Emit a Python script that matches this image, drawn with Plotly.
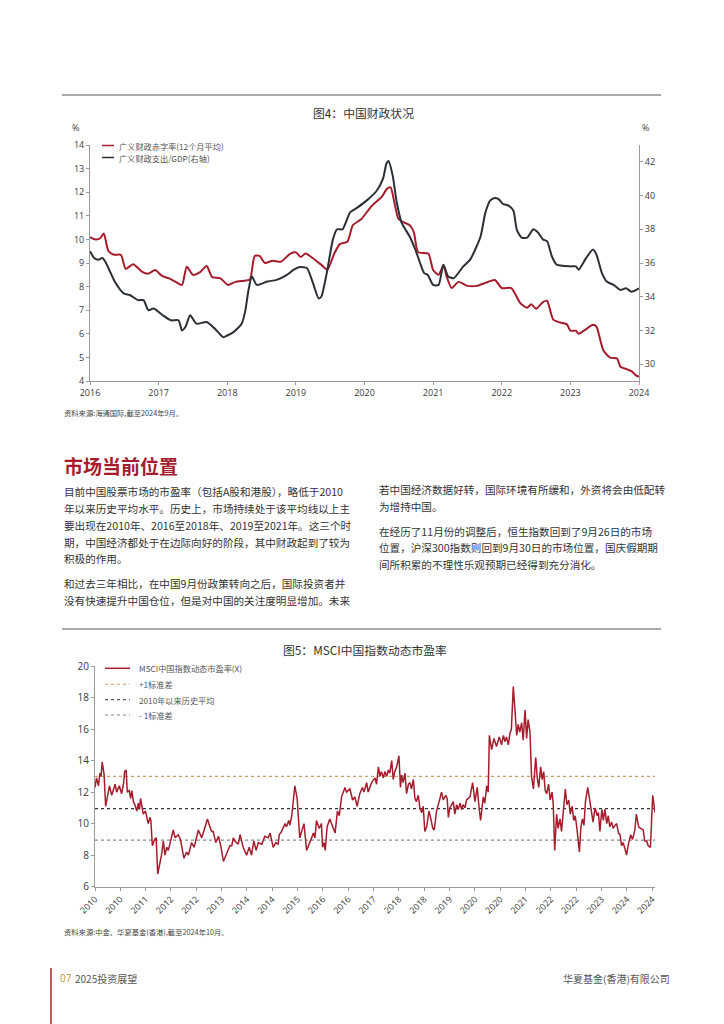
import plotly.graph_objects as go

# ---------------- Figure 4 data ----------------
deficit_years = [2016.00, 2016.08, 2016.15, 2016.20, 2016.27, 2016.35, 2016.45, 2016.52, 2016.63, 2016.75,
                 2016.85, 2016.95, 2017.05, 2017.15, 2017.25, 2017.34, 2017.41, 2017.50, 2017.60, 2017.70,
                 2017.78, 2017.90, 2018.01, 2018.12, 2018.25, 2018.33, 2018.40, 2018.47, 2018.55, 2018.66,
                 2018.78, 2018.92, 2019.00, 2019.07, 2019.14, 2019.25, 2019.38, 2019.46, 2019.56, 2019.64,
                 2019.75, 2019.83, 2019.95, 2020.10, 2020.25, 2020.33, 2020.38, 2020.44, 2020.49, 2020.55,
                 2020.66, 2020.72, 2020.78, 2020.93, 2021.00, 2021.08, 2021.15, 2021.20, 2021.27, 2021.37,
                 2021.50, 2021.64, 2021.77, 2021.90, 2022.00, 2022.14, 2022.27, 2022.37, 2022.43, 2022.50,
                 2022.60, 2022.66, 2022.75, 2022.85, 2022.95, 2023.00, 2023.08, 2023.12, 2023.23, 2023.33,
                 2023.38, 2023.48, 2023.58, 2023.68, 2023.73, 2023.83, 2023.90, 2023.95, 2024.00]
deficit_rate = [10.1, 10.0, 10.05, 10.25, 9.5, 9.35, 9.35, 8.75, 8.95, 8.65,
                8.55, 8.7, 8.45, 8.35, 8.2, 8.07, 8.84, 8.5, 8.6, 8.87,
                8.4, 8.35, 8.07, 8.2, 8.25, 8.3, 9.3, 9.3, 9.0, 9.1,
                9.05, 9.4, 9.45, 9.25, 9.4, 9.2, 8.9, 8.72, 9.4, 9.8,
                9.9, 10.6, 10.85, 11.4, 11.8, 12.15, 12.2, 11.5, 10.9, 10.75,
                10.6, 10.3, 9.46, 9.4, 8.7, 8.5, 8.9, 8.4, 7.94, 8.2,
                8.03, 8.03, 8.17, 8.28, 7.94, 7.94, 7.3, 7.1, 7.25, 7.06,
                7.34, 7.4, 6.6, 6.48, 6.4, 6.13, 6.13, 6.0, 6.2, 6.38,
                6.3, 5.3, 4.99, 4.95, 4.6, 4.49, 4.4, 4.25, 4.18]

spend_years = [2016.00, 2016.06, 2016.12, 2016.18, 2016.22, 2016.28, 2016.36, 2016.49, 2016.58, 2016.70,
               2016.78, 2016.85, 2016.93, 2017.06, 2017.18, 2017.29, 2017.34, 2017.39, 2017.46, 2017.55,
               2017.70, 2017.82, 2017.94, 2018.00, 2018.09, 2018.21, 2018.26, 2018.31, 2018.36, 2018.43,
               2018.58, 2018.72, 2018.87, 2018.97, 2019.06, 2019.16, 2019.25, 2019.33, 2019.37, 2019.45,
               2019.54, 2019.60, 2019.68, 2019.79, 2019.90, 2020.03, 2020.18, 2020.27, 2020.32, 2020.35,
               2020.41, 2020.47, 2020.54, 2020.66, 2020.74, 2020.81, 2020.87, 2020.92, 2021.00, 2021.08,
               2021.15, 2021.22, 2021.30, 2021.44, 2021.54, 2021.69, 2021.76, 2021.83, 2021.90, 2021.95,
               2022.02, 2022.10, 2022.17, 2022.22, 2022.29, 2022.37, 2022.46, 2022.53, 2022.60, 2022.66,
               2022.73, 2022.80, 2023.00, 2023.08, 2023.12, 2023.23, 2023.33, 2023.38, 2023.46, 2023.53,
               2023.63, 2023.73, 2023.81, 2023.89, 2024.00]
spend_gdp = [36.7, 36.3, 36.2, 36.3, 36.1, 35.6, 34.9, 34.2, 34.1, 33.8,
             33.8, 33.2, 33.3, 32.9, 32.6, 32.6, 32.0, 32.2, 32.9, 32.4,
             32.5, 32.1, 31.6, 31.7, 31.9, 32.4, 33.1, 34.4, 35.2, 34.7,
             34.9, 35.0, 35.3, 35.6, 35.76, 35.7, 34.8, 33.9, 34.0, 35.4,
             37.4, 38.0, 38.0, 39.0, 39.3, 39.7, 40.3, 41.0, 41.9, 42.05,
             41.2, 39.6, 38.4, 37.56, 36.8, 36.0, 35.4, 35.3, 34.7, 34.7,
             35.9, 35.2, 35.1, 35.8, 36.2, 37.56, 38.96, 39.7, 39.86, 39.8,
             39.5, 39.4, 39.1, 37.96, 37.5, 37.5, 38.0, 37.8, 37.4, 37.3,
             36.4, 35.9, 35.8, 35.8, 35.6, 36.3, 36.8, 36.5, 35.4, 34.9,
             34.7, 34.4, 34.5, 34.3, 34.5]

fig4_xticks = [2016, 2017, 2018, 2019, 2020, 2021, 2022, 2023, 2024]
fig4_xtick_text = ["2016", "2017", "2018", "2019", "2020", "2021", "2022", "2023", "2024"]

# ---------------- Figure 5 data ----------------
pe_years = [2010.00, 2010.04, 2010.09, 2010.13, 2010.16, 2010.19, 2010.24, 2010.28, 2010.38, 2010.44,
            2010.53, 2010.57, 2010.64, 2010.70, 2010.75, 2010.78, 2010.82, 2010.85, 2010.90, 2010.94,
            2010.97, 2011.01, 2011.05, 2011.10, 2011.14, 2011.17, 2011.20, 2011.27, 2011.33, 2011.40,
            2011.45, 2011.47, 2011.51, 2011.57, 2011.61, 2011.65, 2011.75, 2011.80, 2011.84, 2011.89,
            2011.93, 2011.99, 2012.06, 2012.11, 2012.19, 2012.25, 2012.31, 2012.34, 2012.41, 2012.46,
            2012.50, 2012.54, 2012.61, 2012.66, 2012.72, 2012.81, 2012.89, 2012.96, 2013.01, 2013.07,
            2013.11, 2013.18, 2013.25, 2013.31, 2013.38, 2013.45, 2013.55, 2013.60, 2013.64, 2013.68,
            2013.77, 2013.82, 2013.90, 2013.99, 2014.06, 2014.12, 2014.18, 2014.24, 2014.30, 2014.39,
            2014.47, 2014.56, 2014.61, 2014.69, 2014.76, 2014.82, 2014.85, 2014.91, 2015.00, 2015.04,
            2015.10, 2015.13, 2015.18, 2015.26, 2015.32, 2015.39, 2015.46, 2015.50, 2015.57, 2015.66,
            2015.75, 2015.79, 2015.83, 2015.90, 2015.96, 2015.99, 2016.03, 2016.06, 2016.11, 2016.18,
            2016.32, 2016.38, 2016.43, 2016.49, 2016.58, 2016.62, 2016.71, 2016.78, 2016.84, 2016.90,
            2016.97, 2017.04, 2017.08, 2017.15, 2017.19, 2017.28, 2017.37, 2017.41, 2017.46, 2017.50,
            2017.54, 2017.59, 2017.63, 2017.68, 2017.72, 2017.76, 2017.81, 2017.85, 2017.89, 2017.94,
            2018.00, 2018.04, 2018.07, 2018.11, 2018.16, 2018.20, 2018.25, 2018.29, 2018.33, 2018.38,
            2018.42, 2018.46, 2018.51, 2018.55, 2018.60, 2018.64, 2018.68, 2018.73, 2018.79, 2018.84,
            2018.89, 2018.93, 2018.99, 2019.08, 2019.12, 2019.17, 2019.23, 2019.27, 2019.30, 2019.34,
            2019.43, 2019.47, 2019.52, 2019.56, 2019.61, 2019.65, 2019.69, 2019.74, 2019.78, 2019.87,
            2019.94, 2020.00, 2020.06, 2020.11, 2020.15, 2020.22, 2020.26, 2020.31, 2020.35, 2020.38,
            2020.44, 2020.50, 2020.57, 2020.64, 2020.70, 2020.75, 2020.79, 2020.83, 2020.88, 2020.92,
            2020.96, 2021.01, 2021.05, 2021.10, 2021.14, 2021.18, 2021.23, 2021.27, 2021.32, 2021.36,
            2021.40, 2021.45, 2021.49, 2021.54, 2021.60, 2021.64, 2021.68, 2021.73, 2021.77, 2021.81,
            2021.85, 2021.89, 2021.94, 2021.98, 2022.03, 2022.06, 2022.10, 2022.15, 2022.19, 2022.24,
            2022.28, 2022.32, 2022.38, 2022.42, 2022.47, 2022.51, 2022.56, 2022.60, 2022.64, 2022.68,
            2022.75, 2022.79, 2022.83, 2022.87, 2022.91, 2022.97, 2023.03, 2023.07, 2023.11, 2023.16,
            2023.22, 2023.25, 2023.29, 2023.34, 2023.38, 2023.42, 2023.47, 2023.51, 2023.55, 2023.60,
            2023.64, 2023.69, 2023.73, 2023.78, 2023.82, 2023.86, 2023.90, 2023.95, 2023.99, 2024.04,
            2024.10, 2024.15, 2024.21, 2024.25, 2024.31, 2024.36, 2024.43, 2024.47, 2024.52, 2024.56,
            2024.62, 2024.68, 2024.74]
pe_values = [12.3, 12.9, 12.4, 13.2, 13.0, 13.9, 13.1, 11.1, 12.4, 11.8,
             12.5, 12.0, 12.4, 11.9, 12.5, 13.3, 13.4, 12.0, 12.1, 11.6,
             12.1, 11.4, 11.2, 10.8, 11.3, 10.9, 11.6, 10.6, 10.8, 10.0,
             10.4, 10.2, 8.6, 9.0, 9.1, 6.8, 8.0, 8.9, 8.0, 8.5,
             8.3, 9.0, 9.6, 9.1, 9.3, 9.0, 8.0, 7.8, 8.2, 8.0,
             8.4, 8.8, 8.5, 9.0, 9.6, 9.1, 9.8, 10.3, 9.9, 9.5,
             9.5, 8.8, 9.2, 8.6, 7.6, 8.0, 8.6, 8.6, 9.1, 8.9,
             8.7, 9.3, 8.5, 8.0, 8.5, 8.0, 8.9, 8.3, 8.8, 8.7,
             9.2, 9.1, 9.4, 8.5, 8.8, 8.7, 9.3, 9.5, 10.0, 9.8,
             10.2, 9.9, 10.5, 12.4, 11.6, 9.1, 9.6, 10.0, 8.3, 8.8,
             9.4, 9.1, 10.2, 9.7, 10.0, 8.5, 8.8, 8.3, 9.8, 10.3,
             9.4, 10.8, 10.5, 11.7, 12.3, 12.0, 12.2, 11.5, 11.7, 11.1,
             11.9, 12.3, 12.0, 12.6, 12.0, 12.6, 12.9, 12.5, 13.6, 13.0,
             13.3, 12.9, 13.3, 13.0, 13.4, 13.2, 14.0, 12.8, 13.3, 13.6,
             14.3, 12.3, 13.1, 12.6, 13.2, 11.9, 12.5, 12.6, 12.2, 12.8,
             11.6, 11.4, 11.8, 11.0, 10.7, 11.1, 9.5, 9.8, 10.8, 10.3,
             9.7, 9.6, 10.8, 11.6, 12.0, 11.5, 11.8, 11.6, 10.4, 11.0,
             11.4, 10.6, 11.2, 10.9, 11.3, 10.9, 11.2, 11.0, 11.5, 11.7,
             12.6, 11.4, 12.3, 11.0, 10.2, 11.7, 11.3, 12.4, 12.0, 15.6,
             14.7, 15.4, 14.9, 15.5, 15.0, 15.6, 15.2, 15.5, 15.0, 15.7,
             16.0, 18.7, 17.4, 15.6, 16.3, 15.8, 16.4, 15.3, 17.2, 15.4,
             16.6, 15.8, 13.0, 12.2, 14.2, 12.9, 12.3, 13.6, 12.8, 13.3,
             12.1, 11.9, 12.5, 11.5, 12.0, 11.3, 8.3, 10.6, 9.7, 10.3,
             9.5, 10.5, 12.2, 11.2, 11.5, 10.6, 11.1, 10.2, 10.5, 9.8,
             8.2, 9.8, 10.3, 9.9, 11.4, 12.3, 11.4, 10.9, 10.1, 11.0,
             10.5, 10.7, 9.5, 10.9, 10.2, 10.9, 10.0, 10.5, 9.8, 10.1,
             9.7, 9.9, 10.0, 9.4, 9.3, 8.6, 8.8, 8.4, 8.0, 8.7,
             9.3, 9.0, 9.6, 10.6, 9.8, 9.7, 9.6, 8.9, 8.9, 8.6,
             8.5, 11.8, 10.7]
pe_plus1_std = 13.0
pe_mean = 10.95
pe_minus1_std = 8.95
fig5_xtick_text = ["2010", "2010", "2011", "2012", "2012", "2013", "2014", "2014", "2015", "2016",
                   "2016", "2017", "2018", "2018", "2019", "2020", "2020", "2021", "2022", "2022",
                   "2023", "2024", "2024"]

# ---------------- styling ----------------
W, H = 724, 1024
RED = "#a51c2c"
DARK = "#2b3036"
AXIS = "#9a9a9a"
TXT = "#3a3a3a"
FONT = "Open Sans, Noto Sans CJK SC, sans-serif"
CJK = "Noto Sans CJK SC, sans-serif"


def px(x):
    return x / W


def py(y):
    return 1 - y / H


fig = go.Figure()

fig.add_trace(go.Scatter(x=deficit_years, y=deficit_rate, mode="lines", xaxis="x", yaxis="y",
                         line=dict(color=RED, width=2, shape="spline", smoothing=0.6), showlegend=False))
fig.add_trace(go.Scatter(x=spend_years, y=spend_gdp, mode="lines", xaxis="x", yaxis="y2",
                         line=dict(color=DARK, width=2, shape="spline", smoothing=0.6), showlegend=False))

pe_x_range = [pe_years[0], pe_years[-1]]
fig.add_trace(go.Scatter(x=pe_x_range, y=[pe_plus1_std] * 2, mode="lines", xaxis="x2", yaxis="y3",
                         line=dict(color="#c9a066", width=1.2, dash="dot"), showlegend=False))
fig.add_trace(go.Scatter(x=pe_x_range, y=[pe_mean] * 2, mode="lines", xaxis="x2", yaxis="y3",
                         line=dict(color="#333333", width=1.2, dash="dot"), showlegend=False))
fig.add_trace(go.Scatter(x=pe_x_range, y=[pe_minus1_std] * 2, mode="lines", xaxis="x2", yaxis="y3",
                         line=dict(color="#8a8a8a", width=1.2, dash="dot"), showlegend=False))
fig.add_trace(go.Scatter(x=pe_years, y=pe_values, mode="lines", xaxis="x2", yaxis="y3",
                         line=dict(color=RED, width=1.5), showlegend=False))

axis_common = dict(showgrid=False, zeroline=False, showline=True, linecolor=AXIS, linewidth=1,
                   automargin=False,
                   ticks="outside", tickcolor=AXIS, ticklen=3, tickfont=dict(family=FONT, size=9, color=TXT))

fig5_tickvals = [2010 + k * 2 / 3 for k in range(len(fig5_xtick_text))]

fig.update_layout(
    width=W, height=H, margin=dict(l=0, r=0, t=0, b=0, pad=0), autosize=False,
    paper_bgcolor="white", plot_bgcolor="white",
    font=dict(family=FONT, color=TXT),
    xaxis=dict(domain=[px(90), px(639)], range=[2016, 2024], anchor="y",
               tickvals=fig4_xticks, ticktext=fig4_xtick_text, **axis_common),
    yaxis=dict(domain=[py(381), py(145)], range=[4, 14], anchor="x", dtick=1, **axis_common),
    yaxis2=dict(range=[29, 43], overlaying="y", side="right", anchor="x", dtick=2, **axis_common),
    xaxis2=dict(domain=[px(95), px(655)], range=[2010, pe_years[-1]], anchor="y3",
                tickvals=fig5_tickvals, ticktext=fig5_xtick_text, tickangle=-45, **axis_common),
    yaxis3=dict(domain=[py(886.7), py(666)], range=[6, 20], anchor="x2", dtick=2, **axis_common),
)
fig.layout.xaxis2.tickfont.size = 8.8
fig.layout.yaxis3.tickfont.size = 10

shapes = []
ann = []


def text(x, y, s, size=10.5, color=TXT, anchor="left", family=CJK, bold=False):
    if bold:
        s = "<b>" + s + "</b>"
    ann.append(dict(x=px(x), y=py(y), xref="paper", yref="paper", text=s, showarrow=False,
                    xanchor=anchor, yanchor="middle", font=dict(family=family, size=size, color=color)))


def hline(x0, x1, y, color, width=1, dash="solid"):
    shapes.append(dict(type="line", xref="paper", yref="paper", x0=px(x0), x1=px(x1), y0=py(y), y1=py(y),
                       line=dict(color=color, width=width, dash=dash)))


# page rules
hline(62, 661, 95, "#555555", 1)
hline(62, 661, 629, "#555555", 1)

# Figure 4 titles & legend
text(363, 112, "图4：中国财政状况", size=11.8, color="#333", anchor="center")
text(75, 127, "%", size=9, anchor="center", family=FONT)
text(645, 127, "%", size=9, anchor="center", family=FONT)
hline(102, 114, 145.5, RED, 1.5)
text(117, 145.5, "广义财政赤字率(12个月平均)", size=8.2, color="#555")
hline(102, 114, 157.5, DARK, 1.5)
text(117, 157.5, "广义财政支出/GDP(右轴)", size=8.2, color="#555")
text(62, 413, "资料来源:海通国际,截至2024年9月。", size=7.3, color="#444")

# Section heading and body text
text(62, 465, "市场当前位置", size=19, color="#a51c2c", bold=True)
BODY = 10.6
left_lines = [
    (491, "目前中国股票市场的市盈率（包括A股和港股），略低于2010"),
    (508, "年以来历史平均水平。历史上，市场持续处于该平均线以上主"),
    (525, "要出现在2010年、2016至2018年、2019至2021年。这三个时"),
    (542, "期，中国经济都处于在边际向好的阶段，其中财政起到了较为"),
    (558.5, "积极的作用。"),
    (583, "和过去三年相比，在中国9月份政策转向之后，国际投资者并"),
    (600, "没有快速提升中国仓位，但是对中国的关注度明显增加。未来"),
]
for yy, s in left_lines:
    text(62, yy, s, size=BODY, color="#333")
right_lines = [
    (489, "若中国经济数据好转，国际环境有所缓和，外资将会由低配转"),
    (506, "为增持中国。"),
    (531, "在经历了11月份的调整后，恒生指数回到了9月26日的市场"),
    (547.5, "位置，沪深300指数则回到9月30日的市场位置，国庆假期期"),
    (564, "间所积累的不理性乐观预期已经得到充分消化。"),
]
for yy, s in right_lines:
    text(377, yy, s, size=BODY, color="#333")

# Figure 5 titles & legend
text(365, 649, "图5：MSCI中国指数动态市盈率", size=11.8, color="#333", anchor="center")
hline(105, 130, 668.3, RED, 1.5)
text(137, 668.3, "MSCI中国指数动态市盈率(X)", size=8.2, color="#555")
hline(105, 130, 684.3, "#c9a066", 1, "dot")
text(137, 684.3, "+1标准差", size=8.2, color="#555")
hline(105, 130, 699.7, "#333333", 1, "dot")
text(137, 699.7, "2010年以来历史平均", size=8.2, color="#555")
hline(105, 130, 715, "#8a8a8a", 1, "dot")
text(137, 715, "- 1标准差", size=8.2, color="#555")
text(62, 932, "资料来源:中金、华夏基金(香港),截至2024年10月。", size=7.3, color="#444")

# footer
shapes.append(dict(type="line", xref="paper", yref="paper", x0=px(51), x1=px(51), y0=py(968), y1=py(1024),
                   line=dict(color="#b01c2e", width=1.5)))
text(58, 978, "07", size=10, color="#b8953f", family=FONT)
text(73, 978, "2025投资展望", size=10, color="#555")
text(672, 978, "华夏基金(香港)有限公司", size=10, color="#555", anchor="right")

fig.update_layout(shapes=shapes, annotations=ann)
fig.write_html("out.html", config={"displayModeBar": False},
               post_script="document.body.style.margin='0';document.body.style.padding='0';")
